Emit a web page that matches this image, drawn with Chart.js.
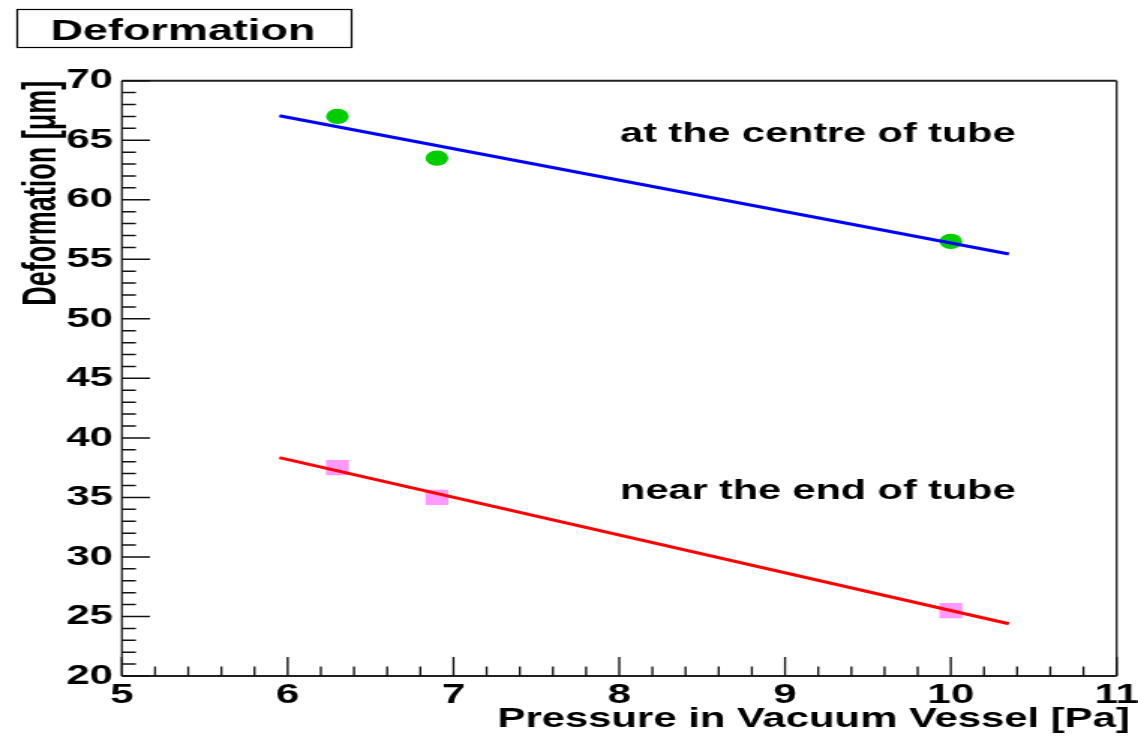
<!DOCTYPE html>
<html>
<head>
<meta charset="utf-8">
<script src="https://cdn.jsdelivr.net/npm/chart.js@4.4.1/dist/chart.umd.min.js"></script>
<style>
  html, body { margin: 0; padding: 0; background: #fff; overflow: hidden; }
  /* the figure is laid out on a narrower page and stretched sideways */
  #wrap { width: 759px; height: 736px; transform-origin: 0 0; transform: scaleX(1.4994); }
</style>
</head>
<body>
<div id="wrap"><canvas id="c"></canvas></div>
<script>
// Measured deformation versus vessel pressure
const pressure = [6.3, 6.9, 10.0];
const centreDeform = [67.0, 63.5, 56.5];
const endDeform = [37.5, 35.0, 25.5];

// straight-line fits, evaluated at the ends of the fit range
const fitRange = [5.95, 10.35];
const centreFit = [67.06, 55.44];
const endFit = [38.34, 24.39];

// axis ticks
const xTicks = [5, 6, 7, 8, 9, 10, 11];
const yTicks = [20, 25, 30, 35, 40, 45, 50, 55, 60, 65, 70];
const xMinorStep = 0.2;
const yMinorStep = 1;

const FONT = "'Liberation Sans', Arial, Helvetica, sans-serif";

const toPoints = (xs, ys) => xs.map((x, i) => ({ x: x, y: ys[i] }));

// frame, inward tick marks and all text of the pad
const padDecor = {
  id: 'padDecor',
  afterDraw(chart) {
    const ctx = chart.ctx;
    const a = chart.chartArea;
    const xs = chart.scales.x, ys = chart.scales.y;
    ctx.save();

    // frame
    ctx.strokeStyle = '#222';
    ctx.lineWidth = 2;
    ctx.beginPath();
    ctx.moveTo(a.left, a.top); ctx.lineTo(a.right, a.top);
    ctx.moveTo(a.left, a.bottom); ctx.lineTo(a.right, a.bottom);
    ctx.stroke();
    ctx.lineWidth = 1.35;
    ctx.beginPath();
    ctx.moveTo(a.left, a.top); ctx.lineTo(a.left, a.bottom);
    ctx.moveTo(a.right, a.top); ctx.lineTo(a.right, a.bottom);
    ctx.stroke();

    // x ticks (pointing up into the frame)
    ctx.strokeStyle = '#111';
    ctx.lineWidth = 1.35;
    ctx.beginPath();
    const nx = Math.round((xs.max - xs.min) / xMinorStep);
    for (let i = 0; i <= nx; i++) {
      const v = xs.min + i * xMinorStep;
      const px = xs.getPixelForValue(v);
      const major = xTicks.some(t => Math.abs(t - v) < 1e-6);
      ctx.moveTo(px, a.bottom);
      ctx.lineTo(px, a.bottom - (major ? 19 : 9.5));
    }
    ctx.stroke();

    // y ticks (pointing right into the frame)
    ctx.lineWidth = 1.5;
    ctx.beginPath();
    const ny = Math.round((ys.max - ys.min) / yMinorStep);
    for (let i = 0; i <= ny; i++) {
      const v = ys.min + i * yMinorStep;
      const py = ys.getPixelForValue(v);
      const major = yTicks.some(t => Math.abs(t - v) < 1e-6);
      ctx.moveTo(a.left, py);
      ctx.lineTo(a.left + (major ? 18.7 : 9.3), py);
    }
    ctx.stroke();

    // title box
    ctx.strokeStyle = '#000';
    ctx.lineWidth = 1.2;
    ctx.fillStyle = '#fff';
    ctx.fillRect(11.5, 9.5, 223, 38);
    ctx.strokeRect(11.5, 9.5, 223, 38);
    ctx.fillStyle = '#000';
    ctx.font = 'bold 30px ' + FONT;
    ctx.textAlign = 'center';
    ctx.textBaseline = 'alphabetic';
    ctx.fillText('Deformation', 122, 39.5);

    // curve labels
    ctx.font = 'bold 27.6px ' + FONT;
    ctx.textAlign = 'left';
    ctx.fillText('at the centre of tube', 413.6, 142);
    ctx.fillText('near the end of tube', 413.6, 499);

    // x axis title
    ctx.font = 'bold 27.9px ' + FONT;
    ctx.textAlign = 'right';
    ctx.fillText('Pressure in Vacuum Vessel [Pa]', 753.5, 727);

    // y axis title
    ctx.save();
    ctx.translate(36.5, a.top);
    ctx.rotate(-Math.PI / 2);
    ctx.scale(1, 1.16);
    ctx.textAlign = 'right';
    ctx.font = 'bold 27px ' + FONT;
    ctx.fillText('Deformation [\u03bcm]', 0, 0);
    ctx.restore();

    ctx.restore();
  }
};

new Chart(document.getElementById('c'), {
  type: 'scatter',
  data: {
    datasets: [
      {
        label: 'centre fit',
        data: toPoints(fitRange, centreFit),
        showLine: true,
        borderColor: '#0000ff',
        borderWidth: 3,
        pointRadius: 0,
        fill: false
      },
      {
        label: 'end fit',
        data: toPoints(fitRange, endFit),
        showLine: true,
        borderColor: '#ff0000',
        borderWidth: 3,
        pointRadius: 0,
        fill: false
      },
      {
        label: 'at the centre of tube',
        data: toPoints(pressure, centreDeform),
        pointStyle: 'circle',
        pointRadius: 7.6,
        pointBackgroundColor: '#00cc00',
        pointBorderWidth: 0,
        borderWidth: 0
      },
      {
        label: 'near the end of tube',
        data: toPoints(pressure, endDeform),
        pointStyle: 'rect',
        pointRadius: 10.8,
        pointBackgroundColor: '#ff99ff',
        pointBorderWidth: 0,
        borderWidth: 0
      }
    ]
  },
  options: {
    responsive: true,
    maintainAspectRatio: false,
    animation: false,
    events: [],
    layout: { padding: { left: 0, right: 14.3, top: 80.7, bottom: 0 } },
    plugins: { legend: { display: false }, tooltip: { enabled: false } },
    scales: {
      x: {
        type: 'linear',
        min: 5, max: 11,
        afterBuildTicks: s => { s.ticks = xTicks.map(v => ({ value: v })); },
        afterFit: s => { s.height = 60; s.paddingLeft = 0; s.paddingRight = 0; },
        grid: { display: true, drawOnChartArea: false, drawTicks: false },
        border: { display: false },
        ticks: {
          autoSkip: false, maxRotation: 0, padding: 2,
          color: '#000',
          font: { family: FONT, size: 28, weight: 'bold' }
        }
      },
      y: {
        type: 'linear',
        min: 20, max: 70,
        afterBuildTicks: s => { s.ticks = yTicks.map(v => ({ value: v })); },
        afterFit: s => { s.width = 81.3; s.paddingTop = 0; s.paddingBottom = 0; },
        grid: { display: true, drawOnChartArea: false, drawTicks: false },
        border: { display: false },
        ticks: {
          autoSkip: false, padding: 6,
          color: '#000',
          font: { family: FONT, size: 28, weight: 'bold' }
        }
      }
    }
  },
  plugins: [padDecor]
});
</script>
</body>
</html>
